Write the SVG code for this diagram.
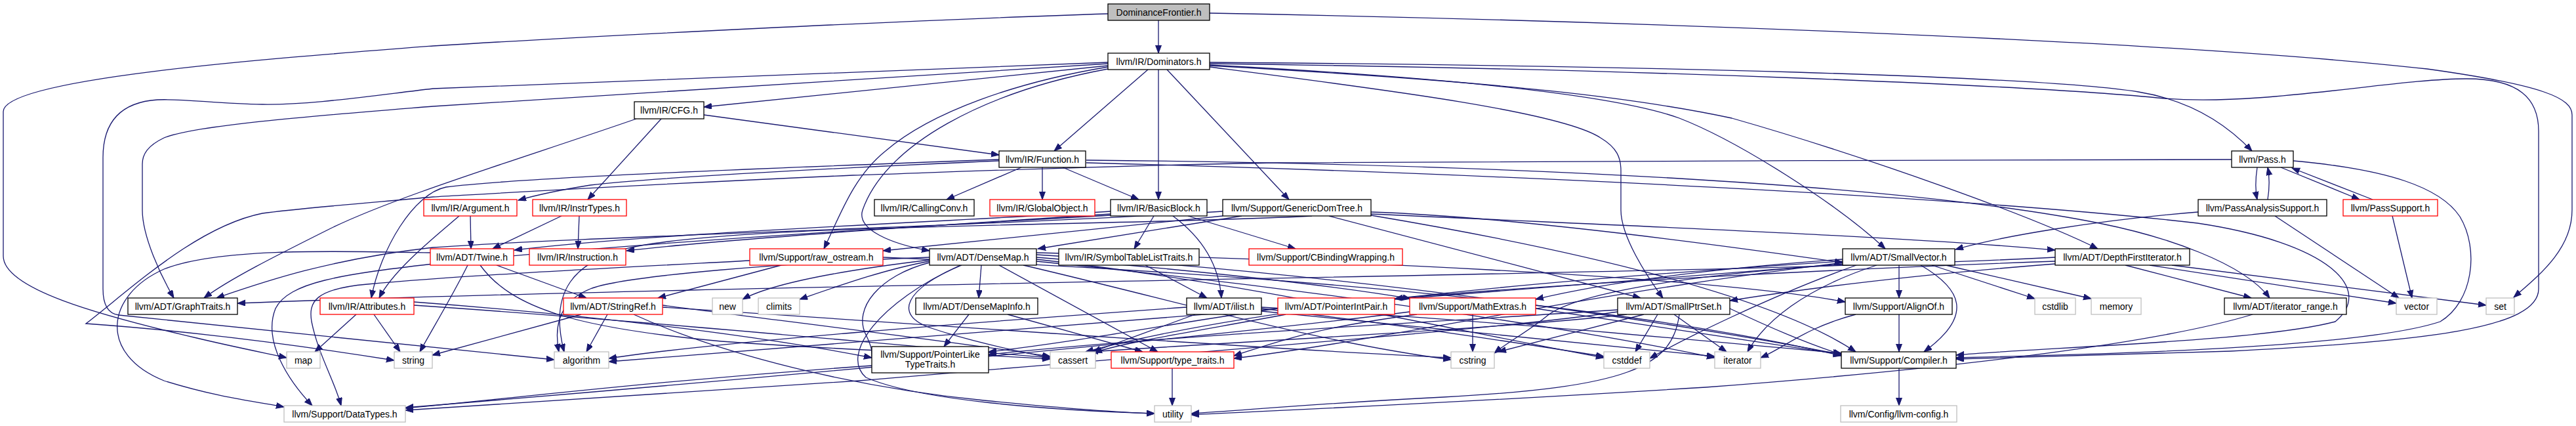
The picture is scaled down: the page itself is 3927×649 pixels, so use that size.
<svg xmlns="http://www.w3.org/2000/svg" width="3927" height="649" viewBox="0 0 3927 649">
<style>
.n rect{fill:#fff;stroke-width:1.3}
.b rect{stroke:#000}
.r rect{stroke:#ff0000}
.g rect{stroke:#bfbfbf}
.n text{font-family:"Liberation Sans",Arial,sans-serif;font-size:14px;fill:#000;text-anchor:middle}
#edges path{fill:none;stroke:#191970;stroke-width:1.3;marker-end:url(#a)}
</style>
<defs>
<marker id="a" markerUnits="userSpaceOnUse" markerWidth="13" markerHeight="10" refX="12" refY="4.5" orient="auto">
<path d="M0,0 L12,4.5 L0,9 z" fill="#191970" stroke="#191970" stroke-width="1"/>
</marker>
</defs>
<rect width="3927" height="649" fill="#fff"/>
<g id="edges">
<path d="M1766,31 L1766,81"/>
<path d="M1689,21 C1400,30 900,55 660,70 C400,90 5,120 5,170 L5,390 C5,440 150,480 300,515 C350,527 400,537 437,545"/>
<path d="M1844,20 C2400,30 3300,60 3700,105 C3880,130 3921,150 3921,175 L3921,320 C3921,380 3870,420 3832,453"/>
<path d="M1689,100 L1073,163"/>
<path d="M1750,106 L1607,230"/>
<path d="M1766,106 L1766,304"/>
<path d="M1779,106 L1965,304"/>
<path d="M1689,97 L660,162 C500,175 300,190 250,210 C225,222 217,235 217,250 L217,320 C217,360 245,420 265,454"/>
<path d="M1689,95 L660,135 C550,148 470,160 400,159 C330,158 280,150 240,152 C180,156 157,190 157,240 L157,440 C157,465 165,478 181,480 L845,548"/>
<path d="M1689,102 C1550,125 1420,170 1350,230 C1300,270 1280,330 1256,379"/>
<path d="M1689,105 C1500,140 1350,220 1315,320 C1305,350 1360,372 1417,382"/>
<path d="M1844,102 C2100,135 2380,170 2440,210 C2465,225 2471,240 2471,260 L2471,320 C2471,360 2510,420 2535,454"/>
<path d="M1844,99 C2150,115 2450,140 2560,180 C2650,215 2800,310 2874,379"/>
<path d="M1844,100 C2300,125 2500,150 2640,180 C2850,240 3100,330 3198,379"/>
<path d="M1844,95 C2500,100 3100,115 3260,140 C3340,153 3395,190 3433,230"/>
<path d="M1844,97 C2500,105 3100,130 3300,150 C3450,162 3650,120 3760,120 C3840,120 3870,150 3870,200 L3870,440 C3870,500 3700,520 3400,535 L2982,547"/>
<path d="M1073,175 L1523,236"/>
<path d="M1008,181 L896,304"/>
<path d="M970,181 C800,240 600,300 500,350 C420,390 350,425 311,454"/>
<path d="M1557,255 L1443,304"/>
<path d="M1589,255 L1589,304"/>
<path d="M1620,255 L1736,304"/>
<path d="M1523,245 C1300,255 1000,270 900,282 C850,290 815,298 790,305"/>
<path d="M1523,243 C1200,255 800,270 680,285 C630,295 580,380 566,454"/>
<path d="M1656,244 C2300,250 2900,280 3200,340 C3300,360 3420,400 3460,454"/>
<path d="M1656,248 C2300,265 3000,300 3350,340 C3550,370 3620,440 3560,490 C3450,520 3100,530 2982,541"/>
<path d="M3441,255 C3438,275 3438,290 3441,304"/>
<path d="M3457,304 C3460,285 3460,270 3457,255"/>
<path d="M3477,255 L3597,304"/>
<path d="M3617,304 L3494,256"/>
<path d="M3496,245 C3640,258 3720,285 3750,330 C3780,380 3770,460 3720,490 C3600,530 3200,540 2982,545"/>
<path d="M3402,243 C3000,244 2200,246 1950,248 C1700,252 1450,262 1300,267 C1000,280 800,292 660,300 C550,310 450,318 400,325 C300,345 200,440 131,493 C300,505 450,525 601,549"/>
<path d="M3351,323 C3200,335 3050,360 2981,380"/>
<path d="M3468,329 L3657,454"/>
<path d="M3647,329 L3677,454"/>
<path d="M717,329 L718,379"/>
<path d="M700,329 C670,355 600,410 578,454"/>
<path d="M856,329 L751,379"/>
<path d="M883,329 L881,379"/>
<path d="M1759,329 L1729,379"/>
<path d="M1788,329 C1830,360 1858,400 1862,454"/>
<path d="M1811,329 L1975,379"/>
<path d="M1693,322 C1400,340 1000,355 784,381"/>
<path d="M1693,326 C1400,345 1100,365 955,382"/>
<path d="M1693,328 C1300,350 900,375 660,402 C520,418 440,430 420,470 C400,520 440,580 476,618"/>
<path d="M1893,329 L1582,379"/>
<path d="M1864,329 L1346,382"/>
<path d="M2026,329 L2501,454"/>
<path d="M2090,323 C2300,330 2600,370 2809,400"/>
<path d="M2090,326 C2500,345 2900,360 3133,381"/>
<path d="M1864,322 C1500,345 900,360 660,377 C500,395 400,430 330,454"/>
<path d="M2090,328 C2400,380 2700,450 2829,536"/>
<path d="M2000,329 C1700,345 1100,340 950,380 C880,400 835,440 860,536"/>
<path d="M757,404 L894,454"/>
<path d="M713,404 C690,450 660,500 640,536"/>
<path d="M732,404 C780,470 880,500 1100,520 C1300,535 1450,537 1601,547"/>
<path d="M656,385 C500,382 330,378 250,410 C160,450 150,540 250,580 C330,605 390,612 433,620"/>
<path d="M1143,397 C900,410 700,420 560,433 C480,440 470,460 475,490 C485,540 510,580 520,618"/>
<path d="M1191,404 L1003,454"/>
<path d="M1346,392 C2000,420 2500,470 2807,542"/>
<path d="M1496,404 L1492,454"/>
<path d="M1580,385 C2000,395 2600,420 2813,460"/>
<path d="M1580,388 C2100,420 2600,500 2807,540"/>
<path d="M1580,392 C1800,410 2000,430 2150,455"/>
<path d="M1417,400 C1340,420 1300,470 1320,510 C1330,530 1330,540 1329,543"/>
<path d="M1523,404 L1765,536"/>
<path d="M1417,392 C1200,400 950,420 900,440 C850,460 845,500 852,536"/>
<path d="M1466,404 C1380,440 1360,480 1420,500 C1480,520 1550,535 1601,545"/>
<path d="M1417,398 C1350,410 1280,435 1219,456"/>
<path d="M1580,395 C1900,430 2200,500 2445,545"/>
<path d="M1560,404 C1800,460 2000,520 2212,548"/>
<path d="M1580,398 C2000,440 2400,500 2614,545"/>
<path d="M1417,396 C1300,410 1180,430 1132,456"/>
<path d="M1464,404 C1340,460 1280,540 1320,575 C1400,610 1600,625 1760,630"/>
<path d="M1746,404 L1840,454"/>
<path d="M3311,404 L3790,465"/>
<path d="M3277,404 L3653,462"/>
<path d="M3240,404 L3432,454"/>
<path d="M3133,392 C2600,420 1200,430 362,462"/>
<path d="M3133,398 C2800,410 2400,430 2126,455"/>
<path d="M3133,402 C2900,420 2750,440 2637,458"/>
<path d="M2895,404 L2895,454"/>
<path d="M2928,404 C2990,440 3010,480 2933,536"/>
<path d="M2809,395 C2600,410 2450,430 2341,456"/>
<path d="M2809,400 C2400,450 2100,520 1881,546"/>
<path d="M2809,402 C2000,470 1200,530 928,551"/>
<path d="M2809,398 C2300,430 1900,470 1655,536"/>
<path d="M2830,404 C2700,450 2560,520 2515,546"/>
<path d="M2945,404 L3102,455"/>
<path d="M2809,403 C2550,420 2400,450 2360,480 C2330,505 2300,520 2278,538"/>
<path d="M2861,404 C2750,440 2690,490 2664,536"/>
<path d="M2966,404 L3188,455"/>
<path d="M2895,479 L2895,536"/>
<path d="M2829,479 C2750,500 2720,530 2684,545"/>
<path d="M2637,470 C2700,500 2760,525 2807,540"/>
<path d="M2466,475 C2300,500 1900,530 1310,580 C1000,600 800,612 618,625"/>
<path d="M2466,472 C2200,490 1800,510 1507,540"/>
<path d="M2480,479 C2300,500 1900,520 1662,536"/>
<path d="M2527,479 L2493,536"/>
<path d="M2506,479 L2284,536"/>
<path d="M2552,479 L2632,536"/>
<path d="M2560,479 C2550,560 2480,590 2200,605 C2000,615 1900,625 1816,630"/>
<path d="M1822,479 L1666,536"/>
<path d="M1809,468 C1500,490 1100,520 928,546"/>
<path d="M1923,470 C2100,490 2300,520 2445,543"/>
<path d="M1923,468 C2300,490 2600,520 2807,538"/>
<path d="M1923,474 C2200,500 2450,525 2614,543"/>
<path d="M1948,470 C1800,490 1650,520 1507,536"/>
<path d="M1960,479 C1850,500 1720,520 1668,537"/>
<path d="M2245,479 L2245,536"/>
<path d="M2341,470 C2550,500 2700,525 2807,540"/>
<path d="M2149,475 C1800,520 1000,590 618,621"/>
<path d="M2160,479 C2000,500 1950,520 1881,542"/>
<path d="M886,479 L659,541"/>
<path d="M926,479 L894,536"/>
<path d="M1010,465 C1200,490 1450,520 1601,543"/>
<path d="M1010,468 C1500,500 1900,530 2212,545"/>
<path d="M966,479 C1100,540 1300,590 1500,610 C1600,620 1700,628 1760,630"/>
<path d="M543,479 L480,536"/>
<path d="M570,479 L610,536"/>
<path d="M631,460 C900,480 1150,510 1329,545"/>
<path d="M631,465 C1000,490 1350,525 1601,545"/>
<path d="M1477,479 L1439,528"/>
<path d="M1536,479 L1742,536"/>
<path d="M1329,557 C1000,580 800,605 618,622"/>
<path d="M1787,561 L1787,618"/>
<path d="M3434,479 C3300,520 3000,560 2600,590 C2200,615 1950,625 1816,632"/>
<path d="M2895,561 L2895,618"/>
</g>
<g id="n_DF" class="n b"><rect x="1689" y="6" width="155" height="25" style="fill:#bfbfbf"/><text x="1766.5" y="23.5">DominanceFrontier.h</text></g>
<g id="n_Dom" class="n b"><rect x="1689" y="81" width="155" height="25"/><text x="1766.5" y="98.5">llvm/IR/Dominators.h</text></g>
<g id="n_CFG" class="n b"><rect x="967" y="155" width="106" height="26"/><text x="1020" y="173">llvm/IR/CFG.h</text></g>
<g id="n_Function" class="n b"><rect x="1523" y="230" width="132" height="25"/><text x="1589" y="247.5">llvm/IR/Function.h</text></g>
<g id="n_Pass" class="n b"><rect x="3402" y="230" width="94" height="25"/><text x="3449" y="247.5">llvm/Pass.h</text></g>
<g id="n_Argument" class="n r"><rect x="646" y="304" width="142" height="25"/><text x="717" y="321.5">llvm/IR/Argument.h</text></g>
<g id="n_InstrTypes" class="n r"><rect x="812" y="304" width="143" height="25"/><text x="883.5" y="321.5">llvm/IR/InstrTypes.h</text></g>
<g id="n_CallingConv" class="n b"><rect x="1333" y="304" width="152" height="25"/><text x="1409" y="321.5">llvm/IR/CallingConv.h</text></g>
<g id="n_GlobalObject" class="n r"><rect x="1509" y="304" width="160" height="25"/><text x="1589" y="321.5">llvm/IR/GlobalObject.h</text></g>
<g id="n_BasicBlock" class="n b"><rect x="1693" y="304" width="147" height="25"/><text x="1766.5" y="321.5">llvm/IR/BasicBlock.h</text></g>
<g id="n_GDT" class="n b"><rect x="1864" y="304" width="226" height="25"/><text x="1977" y="321.5">llvm/Support/GenericDomTree.h</text></g>
<g id="n_PAS" class="n b"><rect x="3351" y="304" width="196" height="25"/><text x="3449" y="321.5">llvm/PassAnalysisSupport.h</text></g>
<g id="n_PassSupport" class="n r"><rect x="3572" y="304" width="144" height="25"/><text x="3644" y="321.5">llvm/PassSupport.h</text></g>
<g id="n_Twine" class="n r"><rect x="656" y="379" width="127" height="25"/><text x="719.5" y="396.5">llvm/ADT/Twine.h</text></g>
<g id="n_Instruction" class="n r"><rect x="807" y="379" width="147" height="25"/><text x="880.5" y="396.5">llvm/IR/Instruction.h</text></g>
<g id="n_raw_ostream" class="n r"><rect x="1143" y="379" width="203" height="25"/><text x="1244.5" y="396.5">llvm/Support/raw_ostream.h</text></g>
<g id="n_DenseMap" class="n b"><rect x="1417" y="379" width="163" height="25"/><text x="1498.5" y="396.5">llvm/ADT/DenseMap.h</text></g>
<g id="n_STLT" class="n b"><rect x="1614" y="379" width="214" height="25"/><text x="1721" y="396.5">llvm/IR/SymbolTableListTraits.h</text></g>
<g id="n_CBW" class="n r"><rect x="1904" y="379" width="234" height="25"/><text x="2021" y="396.5">llvm/Support/CBindingWrapping.h</text></g>
<g id="n_SmallVector" class="n b"><rect x="2809" y="379" width="171" height="25"/><text x="2894.5" y="396.5">llvm/ADT/SmallVector.h</text></g>
<g id="n_DFI" class="n b"><rect x="3133" y="379" width="205" height="25"/><text x="3235.5" y="396.5">llvm/ADT/DepthFirstIterator.h</text></g>
<g id="n_GraphTraits" class="n b"><rect x="195" y="454" width="167" height="25"/><text x="278.5" y="471.5">llvm/ADT/GraphTraits.h</text></g>
<g id="n_Attributes" class="n r"><rect x="488" y="454" width="143" height="25"/><text x="559.5" y="471.5">llvm/IR/Attributes.h</text></g>
<g id="n_StringRef" class="n r"><rect x="859" y="454" width="151" height="25"/><text x="934.5" y="471.5">llvm/ADT/StringRef.h</text></g>
<g id="n_new" class="n g"><rect x="1086" y="454" width="46" height="25"/><text x="1109" y="471.5">new</text></g>
<g id="n_climits" class="n g"><rect x="1156" y="454" width="63" height="25"/><text x="1187.5" y="471.5">climits</text></g>
<g id="n_DenseMapInfo" class="n b"><rect x="1396" y="454" width="186" height="25"/><text x="1489" y="471.5">llvm/ADT/DenseMapInfo.h</text></g>
<g id="n_ilist" class="n b"><rect x="1809" y="454" width="114" height="25"/><text x="1866" y="471.5">llvm/ADT/ilist.h</text></g>
<g id="n_PIP" class="n r"><rect x="1948" y="454" width="178" height="25"/><text x="2037" y="471.5">llvm/ADT/PointerIntPair.h</text></g>
<g id="n_MathExtras" class="n r"><rect x="2149" y="454" width="192" height="25"/><text x="2245" y="471.5">llvm/Support/MathExtras.h</text></g>
<g id="n_SmallPtrSet" class="n b"><rect x="2466" y="454" width="171" height="25"/><text x="2551.5" y="471.5">llvm/ADT/SmallPtrSet.h</text></g>
<g id="n_AlignOf" class="n b"><rect x="2813" y="454" width="163" height="25"/><text x="2894.5" y="471.5">llvm/Support/AlignOf.h</text></g>
<g id="n_cstdlib" class="n g"><rect x="3102" y="454" width="62" height="25"/><text x="3133" y="471.5">cstdlib</text></g>
<g id="n_memory" class="n g"><rect x="3188" y="454" width="76" height="25"/><text x="3226" y="471.5">memory</text></g>
<g id="n_iterator_range" class="n b"><rect x="3391" y="454" width="186" height="25"/><text x="3484" y="471.5">llvm/ADT/iterator_range.h</text></g>
<g id="n_vector" class="n g"><rect x="3653" y="454" width="62" height="25"/><text x="3684" y="471.5">vector</text></g>
<g id="n_set" class="n g"><rect x="3790" y="454" width="43" height="25"/><text x="3811.5" y="471.5">set</text></g>
<g id="n_map" class="n g"><rect x="437" y="536" width="51" height="25"/><text x="462.5" y="553.5">map</text></g>
<g id="n_string" class="n g"><rect x="601" y="536" width="58" height="25"/><text x="630" y="553.5">string</text></g>
<g id="n_algorithm" class="n g"><rect x="845" y="536" width="83" height="25"/><text x="886.5" y="553.5">algorithm</text></g>
<g id="n_PLTT" class="n b"><rect x="1329" y="528" width="178" height="40"/><text x="1418" y="545">llvm/Support/PointerLike</text><text x="1418" y="560">TypeTraits.h</text></g>
<g id="n_cassert" class="n g"><rect x="1601" y="536" width="69" height="25"/><text x="1635.5" y="553.5">cassert</text></g>
<g id="n_type_traits" class="n r"><rect x="1694" y="536" width="187" height="25"/><text x="1787.5" y="553.5">llvm/Support/type_traits.h</text></g>
<g id="n_cstring" class="n g"><rect x="2212" y="536" width="66" height="25"/><text x="2245" y="553.5">cstring</text></g>
<g id="n_cstddef" class="n g"><rect x="2445" y="536" width="70" height="25"/><text x="2480" y="553.5">cstddef</text></g>
<g id="n_iterator" class="n g"><rect x="2614" y="536" width="70" height="25"/><text x="2649" y="553.5">iterator</text></g>
<g id="n_Compiler" class="n b"><rect x="2807" y="536" width="175" height="25"/><text x="2894.5" y="553.5">llvm/Support/Compiler.h</text></g>
<g id="n_DataTypes" class="n g"><rect x="433" y="618" width="185" height="25"/><text x="525.5" y="635.5">llvm/Support/DataTypes.h</text></g>
<g id="n_utility" class="n g"><rect x="1760" y="618" width="56" height="25"/><text x="1788" y="635.5">utility</text></g>
<g id="n_llvmconfig" class="n g"><rect x="2806" y="618" width="177" height="25"/><text x="2894.5" y="635.5">llvm/Config/llvm-config.h</text></g>
</svg>
